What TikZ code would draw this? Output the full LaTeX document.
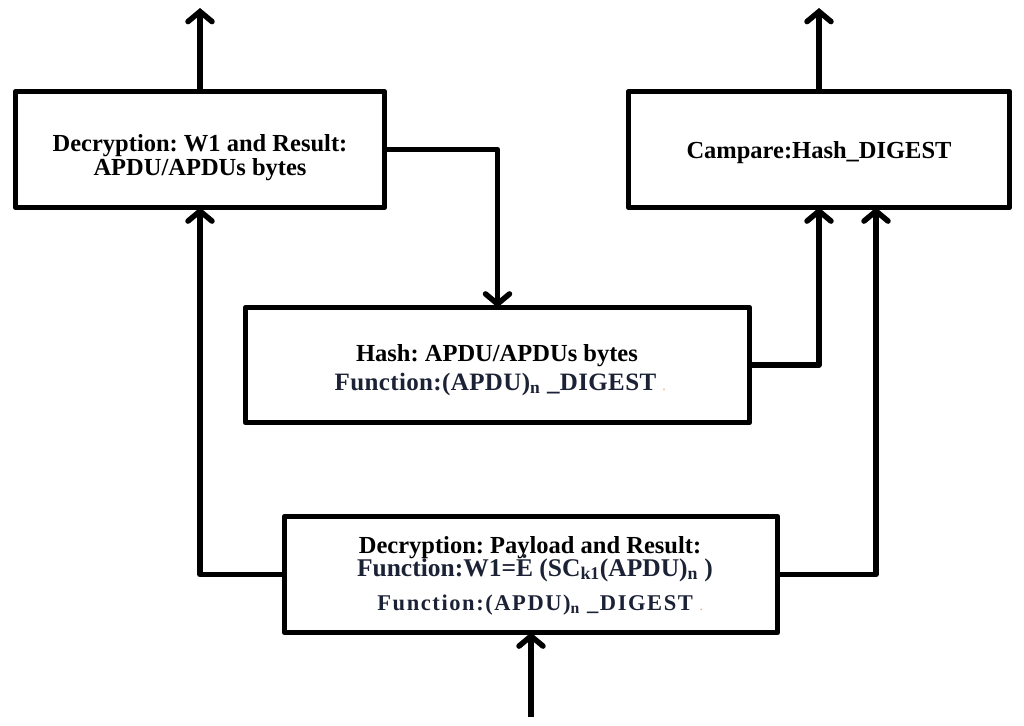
\documentclass[tikz,border=0pt]{standalone}
\usepackage{fontspec}
\setmainfont{Liberation Serif}
\usetikzlibrary{arrows.meta}
\definecolor{fcol}{HTML}{1C2236}
\definecolor{dotcol}{HTML}{F0A060}
\frenchspacing
\begin{document}
\begin{tikzpicture}[x=1pt,y=-1pt,
  box/.style={draw, line width=5.5pt, line join=round, inner sep=0pt, outer sep=0pt},
  txt/.style={anchor=base, inner sep=0pt, font=\fontsize{24.5}{26}\selectfont\bfseries},
  ftxt/.style={txt, text=fcol},
  arr/.style={line width=5.5pt, line join=round, -{Straight Barb[length=10pt,width=24pt,line cap=round]}}]
\useasboundingbox (0,0) rectangle (1024,725);
% boxes
\node[box, minimum width=369pt, minimum height=116pt] (b1) at (200,149.5) {};
\node[box, minimum width=381pt, minimum height=116pt] (b2) at (819,149.5) {};
\node[box, minimum width=504pt, minimum height=115pt] (b3) at (497.5,365) {};
\node[box, minimum width=493pt, minimum height=116pt] (b4) at (531,574.5) {};
% texts
\node[txt] (t1a) at (200,151) {Decryption: W1 and Result:};
\node[txt] (t1b) at (200,175) {APDU/APDUs bytes};
\node[txt] (t2) at (819,158) {Campare:Hash\_DIGEST};
\node[txt] (t3a) at (497,361) {Hash: APDU/APDUs bytes};
\node[ftxt, font=\fontsize{25}{26}\selectfont\bfseries\addfontfeatures{LetterSpace=1.5}] (t3b) at (500,390)
  {Function:(APDU)\textsubscript{n} \_DIGEST {\color{dotcol}\fontsize{10}{12}\selectfont.}};
\node[txt] (t4a) at (530,553) {Decryption: Payload and Result:};
\node[ftxt, font=\fontsize{25.5}{26}\selectfont\bfseries] (t4b) at (535,576)
  {Function:W1=Ė (SC\textsubscript{k1}(APDU)\textsubscript{n} )};
\node[ftxt, font=\fontsize{22.5}{24}\selectfont\bfseries\addfontfeatures{LetterSpace=7}] (t4c) at (540,610)
  {Function:(APDU)\textsubscript{n} \_DIGEST {\color{dotcol}\fontsize{10}{12}\selectfont.}};
% connectors
\coordinate (o1) at (200,8);
\coordinate (o2) at (819,8);
\coordinate (in) at (531,717);
\draw[arr] (b1.north) -- (o1);
\draw[arr] (b2.north) -- (o2);
\draw[arr] (b1.east) -| (b3.north);
\draw[arr] (b3.east) -| (b2.south);
\draw[arr] (b4.west) -| (b1.south);
\draw[arr] (b4.east) -| ([xshift=57pt]b2.south);
\draw[arr] (in) -- (b4.south);
\end{tikzpicture}
\end{document}
